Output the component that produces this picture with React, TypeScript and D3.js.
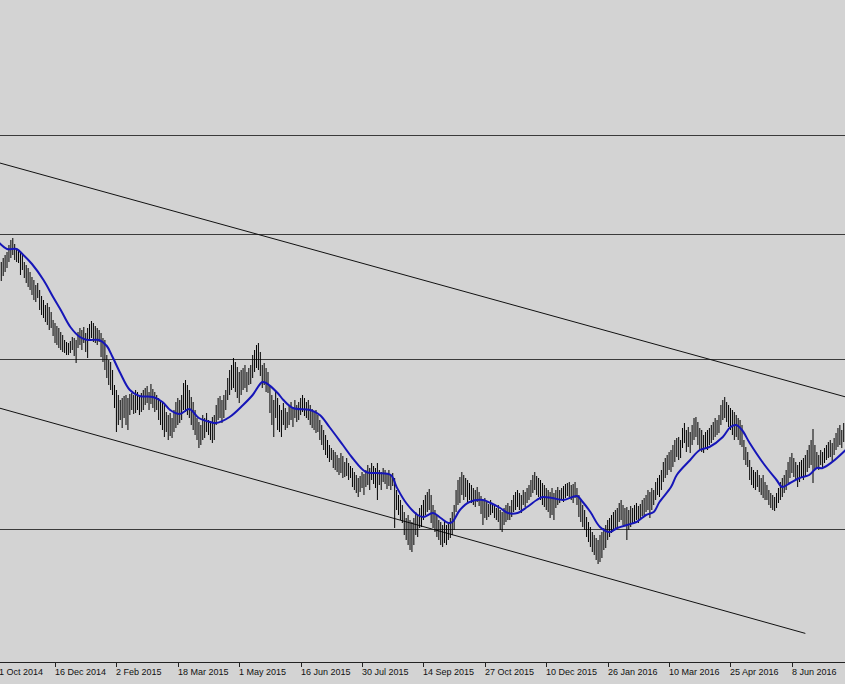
import React from 'react';
import * as d3 from 'd3';

const W = 845;
const H = 684;

// Daily bar highs / lows in pips (price * 10000), bar index 0 = first visible bar
const highPips = [
  8690, 8710, 8725, 8740, 8775, 8800, 8810, 8780, 8760, 8750,
  8740, 8725, 8690, 8675, 8660, 8640, 8615, 8600, 8575, 8585,
  8550, 8520, 8500, 8475, 8485, 8465, 8440, 8400, 8385, 8370,
  8360, 8340, 8325, 8300, 8290, 8285, 8295, 8315, 8310, 8300,
  8340, 8360, 8350, 8365, 8335, 8360, 8380, 8395, 8385, 8370,
  8360, 8350, 8335, 8310, 8300, 8225, 8200, 8190, 8150, 8075,
  8050, 8025, 8000, 8010, 8020, 8025, 8010, 8030, 8035, 8025,
  8050, 8040, 8020, 8035, 8050, 8060, 8070, 8040, 8080, 8055,
  8040, 8025, 8010, 8000, 7985, 7975, 7940, 7925, 7935, 7910,
  7950, 7990, 8010, 8000, 8025, 8085, 8100, 8075, 8050, 8015,
  7990, 7950, 7910, 7890, 7875, 7925, 7910, 7935, 7900, 7890,
  7915, 7925, 7975, 8010, 8020, 8000, 8025, 8050, 8110, 8150,
  8175, 8210, 8190, 8165, 8140, 8150, 8160, 8175, 8140, 8160,
  8175, 8225, 8250, 8275, 8285, 8240, 8175, 8185, 8160, 8140,
  8075, 8025, 8000, 8040, 8010, 7975, 7950, 7985, 7960, 7940,
  7975, 7990, 7965, 8000, 7975, 7990, 8010, 8025, 8010, 7990,
  8000, 7975, 7955, 7940, 7950, 7925, 7900, 7875, 7850, 7825,
  7800, 7775, 7760, 7750, 7740, 7725, 7710, 7735, 7720, 7690,
  7710, 7685, 7670, 7660, 7640, 7625, 7610, 7620, 7640, 7630,
  7650, 7675, 7660, 7685, 7670, 7660, 7685, 7650, 7640, 7660,
  7650, 7635, 7650, 7625, 7635, 7610, 7550, 7525, 7500, 7475,
  7440, 7410, 7425, 7400, 7390, 7410, 7440, 7425, 7460, 7475,
  7500, 7525, 7540, 7555, 7525, 7475, 7450, 7425, 7400, 7390,
  7375, 7400, 7375, 7390, 7410, 7440, 7475, 7550, 7600, 7615,
  7640, 7625, 7610, 7600, 7585, 7575, 7560, 7550, 7565, 7540,
  7520, 7500, 7510, 7490, 7480, 7500, 7485, 7470, 7460, 7475,
  7450, 7440, 7460, 7475, 7485, 7470, 7500, 7525, 7540, 7550,
  7535, 7525, 7550, 7540, 7560, 7575, 7600, 7625, 7640, 7620,
  7610, 7600, 7585, 7575, 7560, 7550, 7540, 7560, 7535, 7550,
  7565, 7550, 7560, 7570, 7580, 7585, 7590, 7575, 7580, 7590,
  7560, 7525, 7500, 7475, 7450, 7415, 7390, 7365, 7340, 7325,
  7310, 7300, 7325, 7340, 7360, 7375, 7400, 7410, 7425, 7440,
  7450, 7460, 7485, 7500, 7475, 7460, 7465, 7450, 7470, 7460,
  7475, 7485, 7470, 7480, 7500, 7510, 7525, 7550, 7540, 7560,
  7550, 7590, 7610, 7625, 7650, 7690, 7710, 7725, 7740, 7750,
  7775, 7800, 7810, 7815, 7800, 7860, 7885, 7850, 7865, 7840,
  7875, 7910, 7915, 7890, 7860, 7850, 7825, 7840, 7850, 7860,
  7875, 7890, 7910, 7900, 7925, 7975, 8000, 8015, 7990, 7975,
  7960, 7950, 7940, 7925, 7910, 7900, 7875, 7800, 7765, 7740,
  7700, 7665, 7650, 7640, 7650, 7625, 7610, 7625, 7590, 7575,
  7550, 7535, 7525, 7515, 7535, 7560, 7590, 7610, 7625, 7650,
  7690, 7715, 7735, 7710, 7690, 7675, 7690, 7700, 7710, 7725,
  7750, 7775, 7800, 7855, 7775, 7740, 7725, 7750, 7740, 7760,
  7775, 7790, 7800, 7785, 7810, 7835, 7860, 7875, 7850, 7885,
];

const lowPips = [
  8595, 8620, 8640, 8660, 8690, 8710, 8725, 8700, 8690, 8685,
  8625, 8650, 8610, 8585, 8565, 8550, 8525, 8500, 8490, 8510,
  8450, 8425, 8410, 8390, 8375, 8350, 8360, 8320, 8285, 8275,
  8260, 8250, 8240, 8235, 8225, 8225, 8235, 8250, 8220, 8185,
  8260, 8275, 8250, 8285, 8240, 8210, 8300, 8310, 8290, 8285,
  8275, 8290, 8215, 8190, 8150, 8110, 8075, 8050, 8025, 7960,
  7840, 7875, 7900, 7860, 7910, 7875, 7850, 7925, 7950, 7930,
  7935, 7950, 7925, 7940, 7950, 7975, 7985, 7950, 7980, 7960,
  7940, 7950, 7900, 7875, 7850, 7815, 7840, 7800, 7820, 7810,
  7840, 7860, 7875, 7885, 7900, 7950, 7940, 7925, 7910, 7875,
  7850, 7825, 7800, 7760, 7775, 7800, 7810, 7840, 7825, 7800,
  7785, 7800, 7875, 7900, 7910, 7885, 7910, 7950, 8000, 8025,
  8050, 8060, 8040, 8010, 7985, 8025, 8050, 8060, 8040, 8075,
  8080, 8110, 8140, 8160, 8150, 8120, 8060, 8075, 8040, 8035,
  7935, 7875, 7815, 7910, 7850, 7840, 7815, 7875, 7850, 7860,
  7875, 7900, 7865, 7910, 7890, 7900, 7925, 7940, 7920, 7910,
  7900, 7875, 7860, 7850, 7835, 7840, 7800, 7775, 7750, 7725,
  7710, 7690, 7700, 7660, 7650, 7640, 7625, 7635, 7610, 7615,
  7620, 7600, 7610, 7565, 7550, 7535, 7515, 7540, 7560, 7525,
  7565, 7575, 7550, 7600, 7580, 7560, 7500, 7575, 7550, 7590,
  7580, 7555, 7570, 7550, 7570, 7360, 7450, 7425, 7400, 7385,
  7325, 7300, 7275, 7250, 7240, 7275, 7325, 7315, 7360, 7365,
  7400, 7425, 7440, 7450, 7385, 7360, 7340, 7315, 7300, 7275,
  7265, 7285, 7275, 7300, 7310, 7325, 7350, 7440, 7475, 7485,
  7525, 7500, 7515, 7490, 7500, 7485, 7475, 7465, 7490, 7470,
  7430, 7375, 7410, 7400, 7415, 7425, 7435, 7410, 7400, 7390,
  7350, 7340, 7375, 7390, 7400, 7400, 7415, 7440, 7450, 7465,
  7450, 7435, 7475, 7465, 7485, 7500, 7515, 7535, 7550, 7525,
  7515, 7500, 7475, 7465, 7450, 7440, 7410, 7425, 7400, 7460,
  7475, 7485, 7500, 7490, 7510, 7520, 7515, 7500, 7485, 7510,
  7475, 7415, 7390, 7365, 7350, 7315, 7290, 7265, 7240, 7225,
  7200, 7180, 7190, 7210, 7250, 7260, 7300, 7315, 7335, 7350,
  7360, 7365, 7390, 7400, 7375, 7370, 7300, 7350, 7365, 7380,
  7390, 7400, 7385, 7405, 7420, 7425, 7440, 7450, 7410, 7450,
  7475, 7500, 7525, 7515, 7550, 7590, 7610, 7625, 7650, 7640,
  7665, 7690, 7715, 7700, 7710, 7760, 7785, 7740, 7765, 7735,
  7775, 7800, 7815, 7775, 7750, 7740, 7735, 7760, 7750, 7775,
  7785, 7800, 7815, 7825, 7835, 7875, 7900, 7910, 7890, 7865,
  7850, 7825, 7800, 7815, 7800, 7775, 7765, 7700, 7675, 7665,
  7600, 7575, 7560, 7550, 7565, 7540, 7525, 7510, 7500, 7500,
  7475, 7460, 7450, 7445, 7460, 7485, 7500, 7515, 7535, 7550,
  7585, 7610, 7635, 7615, 7600, 7565, 7590, 7610, 7600, 7620,
  7640, 7660, 7675, 7585, 7650, 7660, 7650, 7675, 7660, 7685,
  7700, 7710, 7715, 7690, 7725, 7750, 7765, 7775, 7760, 7790,
];

// Moving average at selected bars
const maBar = [
  -1, 3, 8, 11, 16, 22, 27, 31, 36, 41, 45, 51, 55, 58, 62, 67, 72, 79, 84, 88,
  93, 98, 103, 109, 112, 119, 126, 131, 136, 138, 144, 147, 152, 161, 166, 171, 178, 183, 190, 196,
  203, 206, 211, 217, 220, 225, 229, 233, 235, 239, 244, 251, 255, 260, 264, 269, 274, 279, 282, 287,
  293, 300, 303, 307, 312, 317, 321, 326, 331, 336, 340, 343, 349, 352, 359, 364, 369, 376, 380, 383,
  386, 390, 397, 404, 407, 411, 416, 421, 425, 428, 433, 440,
];
const maPips = [
  8785, 8755, 8755, 8730, 8680, 8600, 8515, 8450, 8365, 8315, 8300, 8300, 8270, 8215, 8135, 8050, 8020, 8015, 7990, 7950,
  7930, 7955, 7910, 7890, 7885, 7915, 7975, 8025, 8090, 8085, 8035, 8000, 7960, 7950, 7925, 7865, 7775, 7710, 7640, 7635,
  7625, 7565, 7485, 7425, 7415, 7435, 7410, 7385, 7390, 7450, 7490, 7500, 7485, 7460, 7435, 7435, 7465, 7500, 7515, 7510,
  7500, 7520, 7490, 7440, 7365, 7340, 7360, 7375, 7390, 7425, 7440, 7490, 7565, 7625, 7700, 7750, 7765, 7815, 7865, 7875,
  7850, 7785, 7685, 7600, 7565, 7585, 7610, 7625, 7660, 7660, 7690, 7750,
];

// Horizontal support / resistance levels (pips)
const levelPips = [9325, 8830, 8205, 7357];

// Channel lines: two anchor points each (bar, pips)
const upperBars = [0, 439];
const upperPips = [9183, 8018];
const lowerBars = [0, 419];
const lowerPips = [7957, 6833];

// Time axis labels
const tickBars = [-4, 28, 60, 92, 124, 156, 188, 220, 252, 284, 316, 348, 380, 412];
const tickLabels = [
  '31 Oct 2014', '16 Dec 2014', '2 Feb 2015', '18 Mar 2015', '1 May 2015', '16 Jun 2015',
  '30 Jul 2015', '14 Sep 2015', '27 Oct 2015', '10 Dec 2015', '26 Jan 2016', '10 Mar 2016',
  '25 Apr 2016', '8 Jun 2016',
];

export default function App() {
  const x = d3.scaleLinear().domain([0, 439]).range([1.27, 1.27 + 439 * 1.919]);
  const y = d3.scaleLinear().domain([1.0, 1.0 - 0.0005 * H]).range([0, H]);
  const py = (p: number) => y(p / 10000);

  const bars = highPips.map((h, i) => ({ i, h, l: lowPips[i] }));

  const maLine = d3
    .line<number>()
    .x((_, k) => x(maBar[k]))
    .y((v) => py(v))
    .curve(d3.curveCatmullRom.alpha(0.5));

  const upper = d3.scaleLinear().domain(upperBars).range(upperPips);
  const lower = d3.scaleLinear().domain(lowerBars).range(lowerPips);
  const leftBar = x.invert(0);
  const rightBar = x.invert(W);

  const axisY = 662;

  return (
    <svg
      width={W}
      height={H}
      style={{ position: 'absolute', left: 0, top: 0, display: 'block', background: '#d3d3d3' }}
    >
      <rect x={0} y={0} width={W} height={H} fill="#d3d3d3" />
      {levelPips.map((p, k) => (
        <line key={'lv' + k} x1={0} x2={W} y1={Math.round(py(p)) + 0.5} y2={Math.round(py(p)) + 0.5} stroke="#3a3a3a" strokeWidth={1} />
      ))}
      <line x1={x(leftBar)} y1={py(upper(leftBar))} x2={x(rightBar)} y2={py(upper(rightBar))} stroke="#111" strokeWidth={1} />
      <line x1={x(leftBar)} y1={py(lower(leftBar))} x2={x(lowerBars[1])} y2={py(lower(lowerBars[1]))} stroke="#111" strokeWidth={1} />
      <g>
        {bars.map((b) => (
          <line key={'b' + b.i} x1={x(b.i)} x2={x(b.i)} y1={py(b.h)} y2={py(b.l)} stroke="#000" strokeWidth={1} />
        ))}
      </g>
      <path d={maLine(maPips) || ''} fill="none" stroke="#1616b8" strokeWidth={2} />
      <line x1={0} x2={W} y1={axisY + 0.5} y2={axisY + 0.5} stroke="#222" strokeWidth={1} />
      {tickBars.map((t, k) => {
        const tx = Math.round(x(t)) + 0.5;
        return (
          <g key={'t' + k}>
            <line x1={tx} x2={tx} y1={axisY} y2={axisY + 5} stroke="#222" strokeWidth={1} />
            <text
              x={tx - 0.5}
              y={675}
              fontFamily="'Liberation Sans', Arial, sans-serif"
              fontSize={9}
              fill="#111"
            >
              {tickLabels[k]}
            </text>
          </g>
        );
      })}
    </svg>
  );
}
